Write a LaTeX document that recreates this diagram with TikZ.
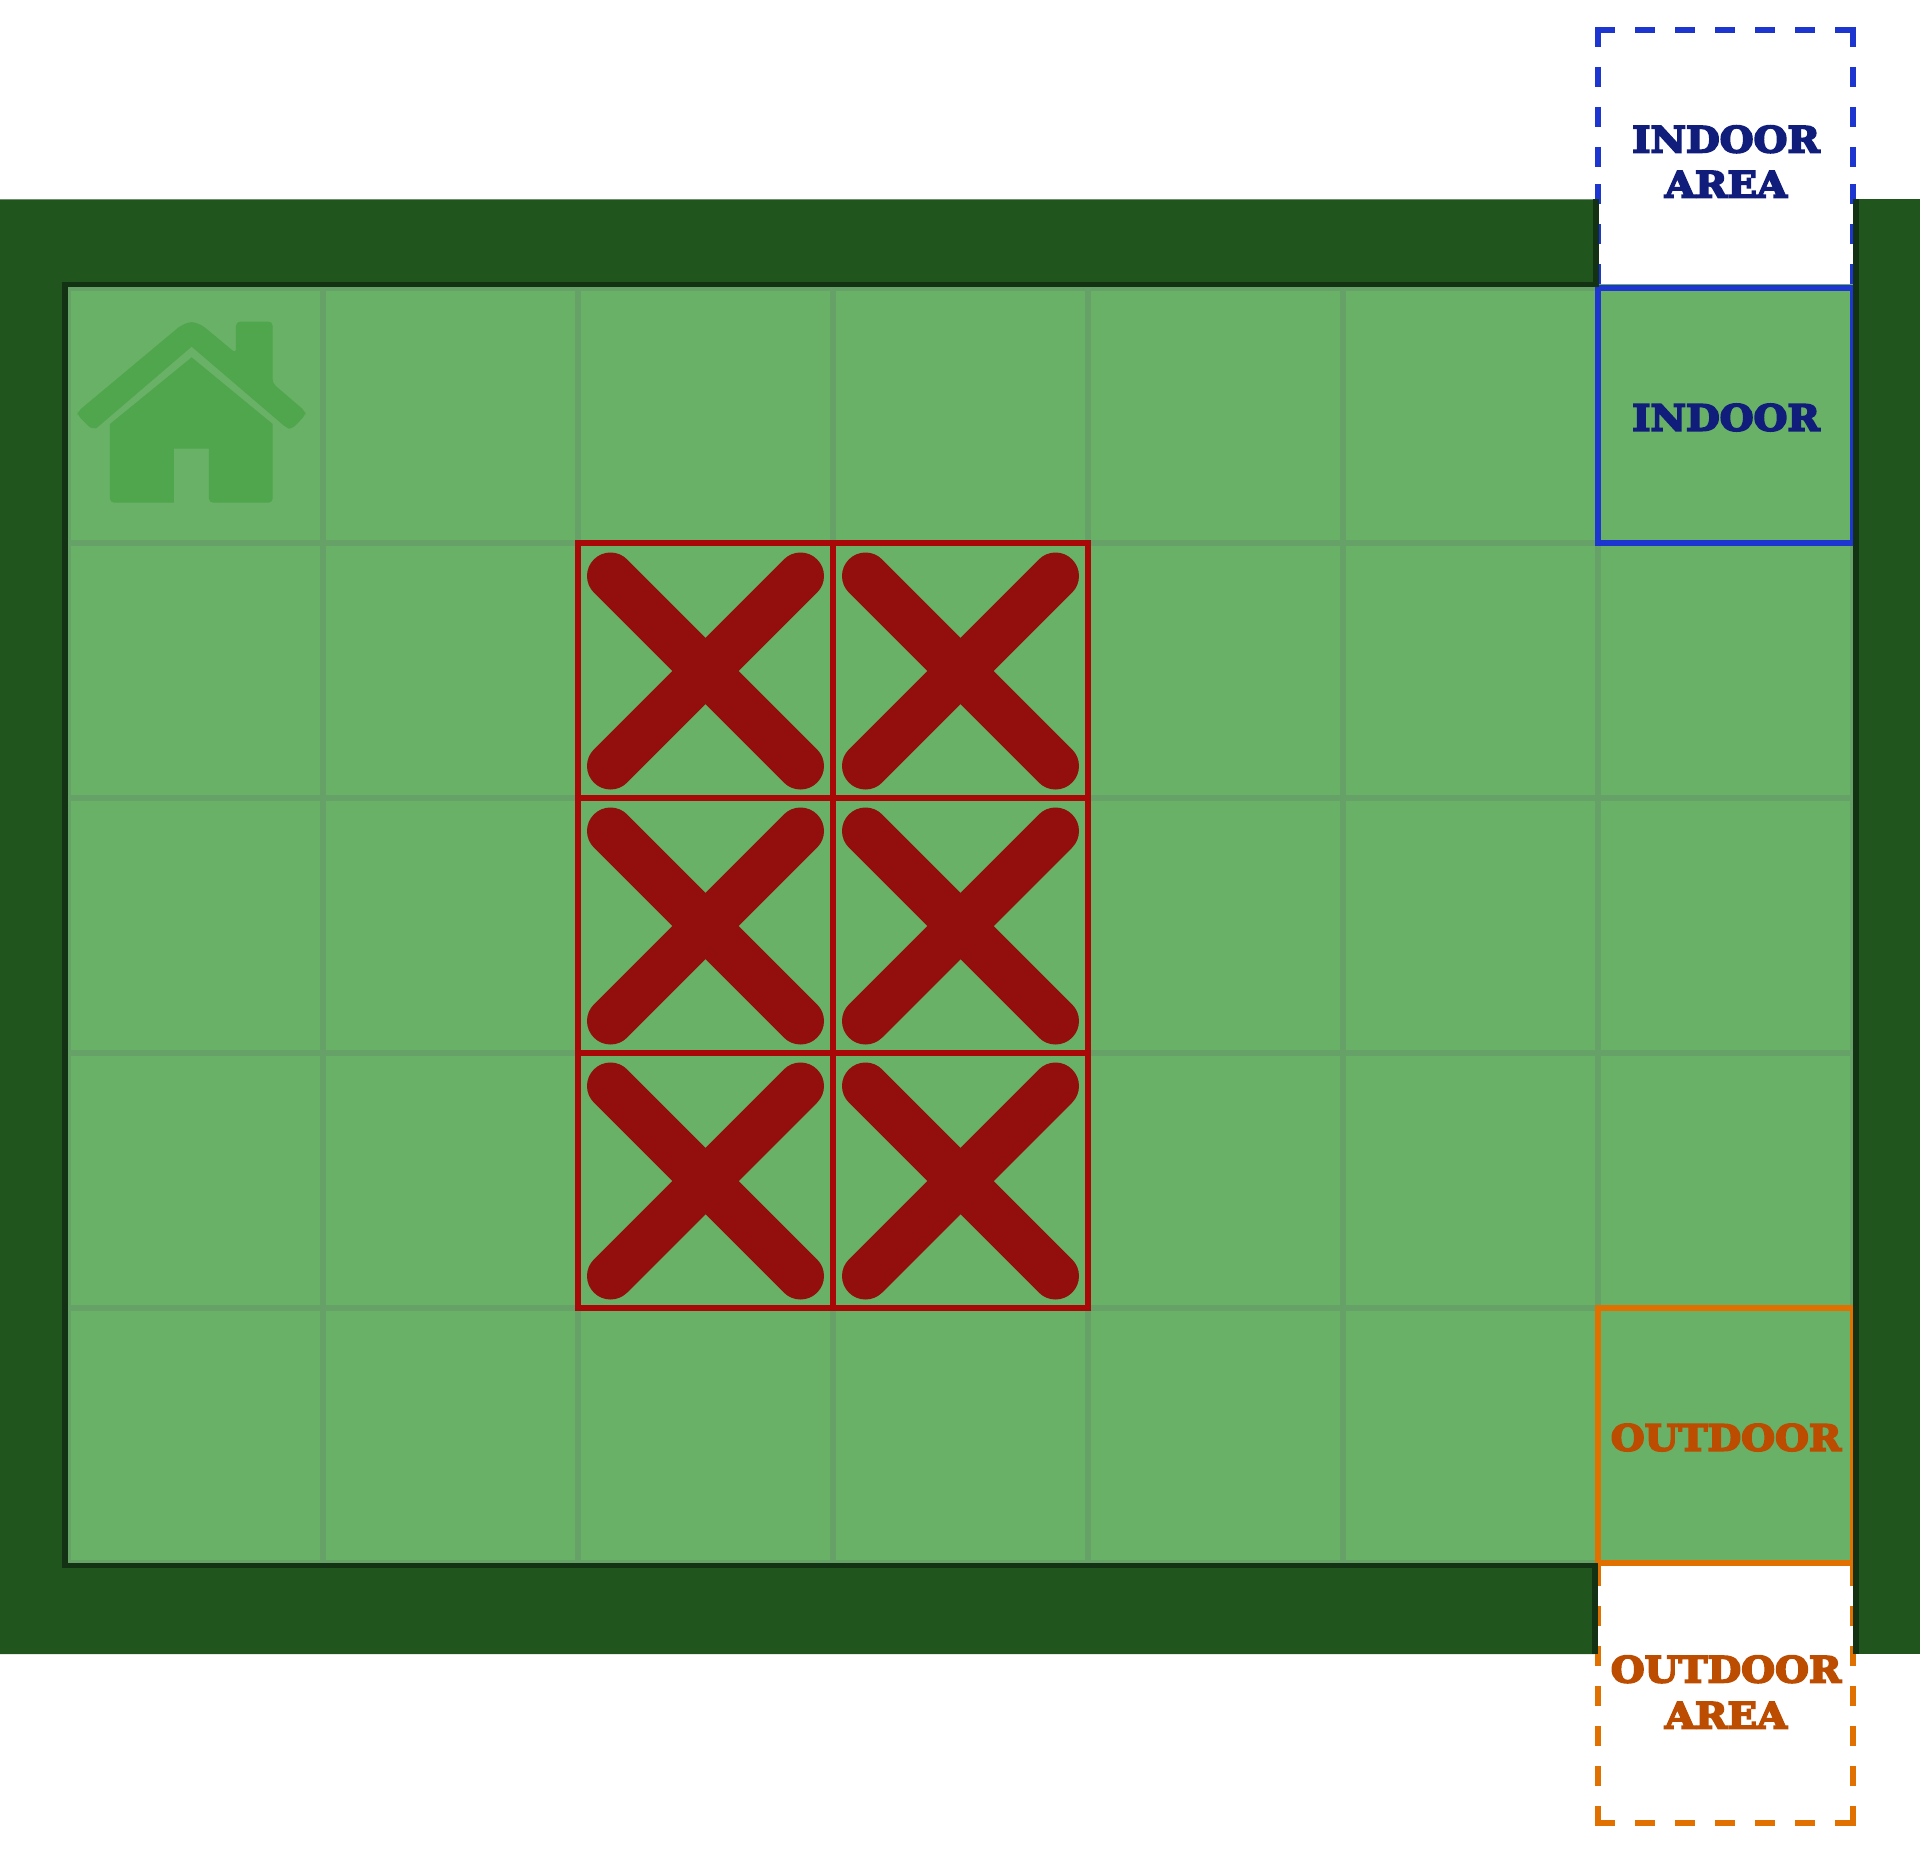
\documentclass[tikz,border=0pt]{standalone}
\usepackage{fontspec}
\newfontfamily\lblfont{DejaVu Serif}[BoldFeatures={FakeBold=5,FakeStretch=1.08}]
\definecolor{floorc}{HTML}{69B166}
\definecolor{gridc}{HTML}{66A267}
\definecolor{housec}{HTML}{50A64C}
\definecolor{wallc}{HTML}{20561E}
\definecolor{walledge}{HTML}{133113}
\definecolor{redx}{HTML}{920F0E}
\definecolor{redbox}{HTML}{A80808}
\definecolor{bluebox}{HTML}{1D36CF}
\definecolor{bluetext}{HTML}{101D7A}
\definecolor{orangebox}{HTML}{E07000}
\definecolor{orangetext}{HTML}{BB4C00}
\tikzset{
  gridline/.style={draw=gridc,line width=6pt},
  redcell/.style={draw=redbox,line width=6pt},
  crossline/.style={draw=redx,line width=47pt,line cap=round},
  wallfill/.style={fill=wallc,draw=none},
  walltrim/.style={draw=walledge,line width=5.6pt,line cap=butt,line join=miter},
  dashblue/.style={draw=bluebox,line width=6pt,dash pattern=on 20pt off 20pt},
  dashorange/.style={draw=orangebox,line width=6pt,dash pattern=on 20pt off 20pt},
  solidblue/.style={draw=bluebox,line width=6pt},
  solidorange/.style={draw=orangebox,line width=6pt},
  lbl/.style={font=\lblfont\bfseries\fontsize{36}{46}\selectfont,align=center,inner sep=0pt},
}
\begin{document}
\begin{tikzpicture}[x=1pt,y=-1pt]
\useasboundingbox (0,0) rectangle (1920,1854);
\fill[white] (0,0) rectangle (1920,1854);
% floor
\fill[floorc] (65,284) rectangle (1856,1565);
% grid
\foreach \x in {68,323,578,833,1088,1343,1598,1853}
  \draw[gridline] (\x,288) -- (\x,1563);
\foreach \y in {288,543,798,1053,1308,1563}
  \draw[gridline] (68,\y) -- (1853,\y);
% house
\begin{scope}[shift={(40,270)},x=0.3333pt,y=-0.3333pt]
  \fill[housec,rounded corners=4pt] (113,425) -- (423,166) -- (455,154) -- (487,166) -- (588,250) -- (588,155) -- (698,155) -- (698,340) -- (796,424) -- (796,436) -- (755,478) -- (740,474) [sharp corners] -- (455,230) -- (170,474) [rounded corners=4pt] -- (155,478) -- (113,436) -- cycle;
  \fill[housec] (455,262) -- (698,462) [rounded corners=4pt] -- (698,698) -- (507,698) [sharp corners] -- (507,536) -- (402,536) -- (402,698) [rounded corners=4pt] -- (210,698) [sharp corners] -- (210,462) -- cycle;
\end{scope}
% blocked cells
\foreach \x in {578,833} \foreach \y in {542.5,797.5,1052.5}
  \draw[redcell] (\x,\y) rectangle ++(255,255);
\foreach \x in {705.5,960.5} \foreach \y in {671,926,1181} {
  \draw[crossline] (\x-95,\y-95) -- (\x+95,\y+95);
  \draw[crossline] (\x+95,\y-95) -- (\x-95,\y+95);
}
% indoor markers
\draw[dashblue] (1595,30) -- (1856,30);
\draw[dashblue] (1598,27) -- (1598,167);
\draw[dashblue] (1853,27) -- (1853,167);
\draw[dashblue] (1598,284) -- (1598,184);
\draw[dashblue] (1853,284) -- (1853,184);
\draw[solidblue] (1598,287.5) rectangle (1853,543);
% outdoor markers
\draw[dashorange] (1595,1823) -- (1856,1823);
\draw[dashorange] (1598,1826) -- (1598,1566);
\draw[dashorange] (1853,1826) -- (1853,1566);
\draw[solidorange] (1598,1308) rectangle (1853,1563);
% wall
\path[wallfill] (0,199.5) -- (1596,199.5) -- (1596,284.5) -- (65,284.5) -- (65,1565.5) -- (1595,1565.5) -- (1595,1654) -- (0,1654) -- cycle;
\path[wallfill] (1856,199.5) rectangle (1920,1654);
\draw[walltrim] (1596,199.5) -- (1596,284.5) -- (65,284.5) -- (65,1565.5) -- (1595,1565.5) -- (1595,1654);
\draw[walltrim] (1856,199.5) -- (1856,1654);
% labels
\node[lbl,text=bluetext,font=\lblfont\bfseries\fontsize{36}{45}\selectfont] (indoorarea) at (1726,161.5) {INDOOR\\AREA};
\node[lbl,text=bluetext] (indoor) at (1726,417.5) {INDOOR};
\node[lbl,text=orangetext] (outdoor) at (1726,1437.5) {OUTDOOR};
\node[lbl,text=orangetext] (outdoorarea) at (1726,1692) {OUTDOOR\\AREA};
\end{tikzpicture}
\end{document}
